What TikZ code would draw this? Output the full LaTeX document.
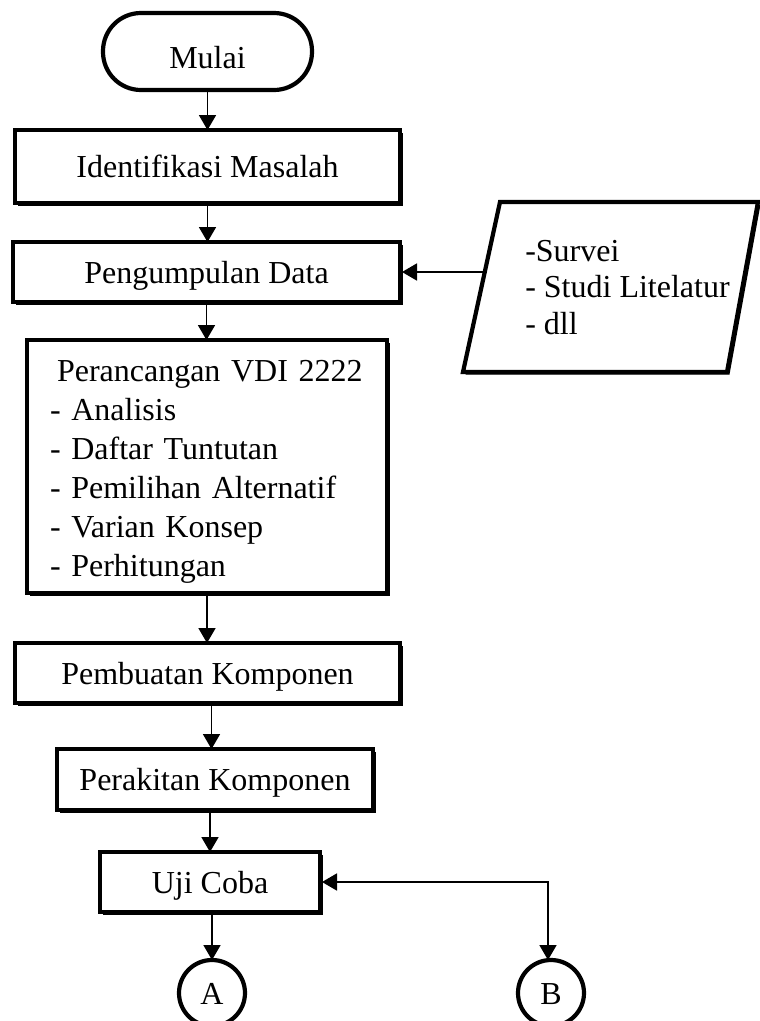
\documentclass[tikz,border=0pt]{standalone}
\usepackage{fontspec}
\setmainfont{Liberation Serif}
\usetikzlibrary{arrows.meta,shadows}
\begin{document}
\begin{tikzpicture}[x=1pt,y=-1pt,
  every node/.style={inner sep=0pt,outer sep=0pt},
  procbox/.style={draw,line width=4.5pt,fill=white,
    drop shadow={shadow xshift=3.2pt,shadow yshift=-3.2pt,fill=black,opacity=1},
    font=\fontsize{32}{38}\selectfont,text height=24pt,text depth=2pt},
  termbox/.style={draw,line width=4.2pt,rounded corners=38pt,fill=white,
    font=\fontsize{32}{38}\selectfont,text height=33pt,text depth=0pt},
  conn/.style={draw,circle,line width=4.2pt,minimum size=66pt,
    font=\fontsize{32}{38}\selectfont,text height=22pt,text depth=0pt},
  flow/.style={line width=1.8pt,-{Triangle[width=17pt,length=15pt]}}]
\useasboundingbox (0,0) rectangle (760,1021);
\begin{scope}
\clip (0,0) rectangle (760,1021);
\node[termbox,minimum width=209pt,minimum height=77pt] (mulai) at (207.5,51.5) {Mulai};
\node[procbox,minimum width=385pt,minimum height=73pt] (ident) at (207.5,166.5) {Identifikasi Masalah};
\node[procbox,minimum width=387pt,minimum height=60pt] (kumpul) at (206.5,272) {Pengumpulan Data};
\node[procbox,minimum width=360pt,minimum height=253pt,text height=,text depth=,
  text width=314pt,align=left,font=\fontsize{32}{39}\selectfont] (rancang) at (207,466.5)
  {\rule{0pt}{31pt}\hspace*{7pt}Perancangan VDI 2222\\
   - Analisis\\
   - Daftar Tuntutan\\
   - Pemilihan Alternatif\\
   - Varian Konsep\\
   - Perhitungan};
\node[procbox,minimum width=385pt,minimum height=60pt] (buat) at (207.5,673) {Pembuatan Komponen};
\node[procbox,minimum width=316pt,minimum height=61pt] (rakit) at (215,779.5) {Perakitan Komponen};
\node[procbox,minimum width=220pt,minimum height=60pt] (uji) at (210,882) {Uji Coba};
\node[conn] (A) at (212,993) {A};
\node[conn] (B) at (551,993) {B};
% input parallelogram
\coordinate (p1) at (500,202);
\coordinate (p2) at (758,202);
\coordinate (p3) at (727,372);
\coordinate (p4) at (463,372);
\fill[black] ([shift={(2.5,2.5)}]p1) -- ([shift={(2.5,2.5)}]p2) -- ([shift={(2.5,2.5)}]p3) -- ([shift={(2.5,2.5)}]p4) -- cycle;
\draw[line width=4.2pt,fill=white,line join=miter] (p1) -- (p2) -- (p3) -- (p4) -- cycle;
\node[align=left,font=\fontsize{32}{36.5}\selectfont] (data) at (627.5,287.5)
  {-Survei\\- Studi Litelatur\\- dll};
\coordinate (pin) at (485,272);
% connectors
\draw[flow] (mulai.south) -- (mulai.south |- ident.north);
\draw[flow] (ident.south) -- (ident.south |- kumpul.north);
\draw[flow] (kumpul.south) -- (kumpul.south |- rancang.north);
\draw[flow] (rancang.south) -- (rancang.south |- buat.north);
\draw[flow] ([xshift=4pt]buat.south) -- ([xshift=4pt]buat.south |- rakit.north);
\draw[flow] ([xshift=-5pt]rakit.south) -- ([xshift=-5pt]rakit.south |- uji.north);
\draw[flow] ([xshift=2pt]uji.south) -- ([xshift=2pt]uji.south |- A.north);
\draw[flow] (pin) -- ([xshift=2pt]kumpul.east);
\draw[flow,{Triangle[width=17pt,length=15pt]}-{Triangle[width=17pt,length=15pt]}] ([xshift=2pt]uji.east) -| ([xshift=-3pt]B.north);
\end{scope}
\end{tikzpicture}
\end{document}
